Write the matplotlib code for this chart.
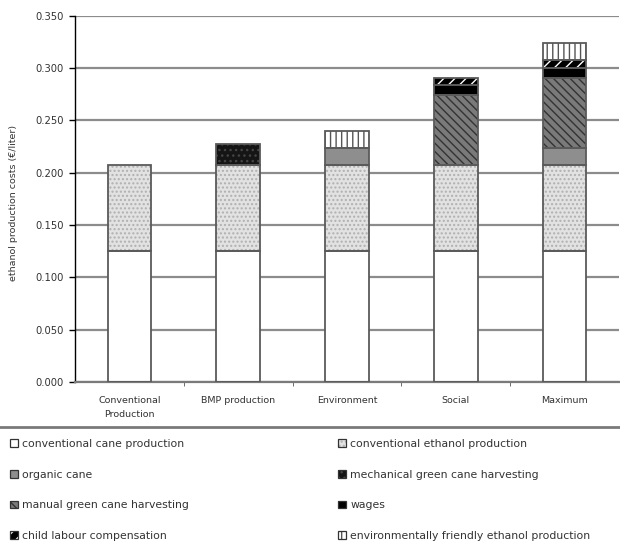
import matplotlib
matplotlib.use("Agg")
import matplotlib.pyplot as plt
from matplotlib.patches import Patch
from matplotlib.lines import Line2D
from matplotlib.legend_handler import HandlerTuple
import numpy as np

# Scenarios on the x axis
scenarios = ["Conventional\nProduction", "BMP production", "Environment", "Social", "Maximum"]

# Cost components (EUR per liter), stacked bottom to top
components = [
    "conventional cane production",
    "conventional ethanol production",
    "organic cane",
    "mechanical green cane harvesting",
    "manual green cane harvesting",
    "wages",
    "child labour compensation",
    "environmentally friendly ethanol production",
]

conventional_cane = [0.125, 0.125, 0.125, 0.125, 0.125]
conventional_ethanol = [0.082, 0.082, 0.082, 0.082, 0.082]
organic_cane = [0.0, 0.0, 0.017, 0.0, 0.017]
mechanical_harvest = [0.0, 0.020, 0.0, 0.0, 0.0]
manual_harvest = [0.0, 0.0, 0.0, 0.067, 0.066]
wages = [0.0, 0.0, 0.0, 0.010, 0.010]
child_labour = [0.0, 0.0, 0.0, 0.006, 0.008]
env_ethanol = [0.0, 0.0, 0.016, 0.0, 0.016]

series = [conventional_cane, conventional_ethanol, organic_cane, mechanical_harvest,
          manual_harvest, wages, child_labour, env_ethanol]

# (face colour, hatch pattern, hatch colour)
styles = [
    ("white", "", "white"),
    ("#e2e2e2", "....", "#b0b0b0"),
    ("#8e8e8e", "", "#8e8e8e"),
    ("#151515", "...", "#454545"),
    ("#7a7a7a", "\\\\\\\\", "#333333"),
    ("black", "", "black"),
    ("black", "///", "white"),
    ("white", "|||", "#555555"),
]

plt.rcParams["hatch.linewidth"] = 1.0
plt.rcParams["font.family"] = ["DejaVu Sans"]

fig = plt.figure(figsize=(6.2, 5.49), dpi=100)
ax = fig.add_axes([75 / 620, 1 - 382 / 549, 544 / 620, (382 - 15.7) / 549])

x = np.arange(len(scenarios))
width = 0.4
edge = "#5a5a5a"
bottom = np.zeros(len(scenarios))
for vals, (face, hatch, hcol) in zip(series, styles):
    vals = np.array(vals)
    mask = vals > 0
    ax.bar(x[mask], vals[mask], width, bottom=bottom[mask], color=face,
           hatch=hatch, edgecolor=hcol, linewidth=0, zorder=2)
    ax.bar(x[mask], vals[mask], width, bottom=bottom[mask], fill=False,
           edgecolor=edge, linewidth=1.3, zorder=3)
    bottom = bottom + vals

ax.set_xlim(-0.5, len(scenarios) - 0.5)
ax.set_ylim(0, 0.35)
ax.set_yticks(np.arange(0, 0.351, 0.05))
ax.set_yticklabels([f"{v:.3f}" for v in np.arange(0, 0.351, 0.05)], fontsize=7.2, color="#333333")
ax.yaxis.grid(True, color="#8c8c8c", linewidth=1.6, zorder=0)
ax.set_axisbelow(True)

ax.set_xticks(x)
ax.set_xticklabels(scenarios, fontsize=6.8, color="#333333", linespacing=1.7)
ax.tick_params(axis="x", which="major", length=0, pad=10)
ax.set_xticks(np.arange(0.5, len(scenarios) - 0.5, 1.0), minor=True)
ax.tick_params(axis="x", which="minor", length=3, color="#555555", direction="out")
ax.tick_params(axis="y", length=4, width=1, color="black", pad=4)

for side in ("top", "right"):
    ax.spines[side].set_visible(False)
ax.spines["left"].set_color("black")
ax.spines["left"].set_linewidth(1.0)
ax.spines["bottom"].set_color("#7a7a7a")
ax.spines["bottom"].set_linewidth(1.6)

ax.set_ylabel("ethanol production costs (\u20ac/liter)", fontsize=6.8, color="#333333")
ax.yaxis.set_label_coords(-0.105, 0.49)

# Separator between chart and legend
fig.add_artist(Line2D([0, 1], [1 - 427 / 549] * 2, transform=fig.transFigure,
                      color="#7a7a7a", linewidth=2.0))

handles = []
for face, hatch, hcol in styles:
    fillp = Patch(facecolor=face, hatch=hatch, edgecolor=hcol, linewidth=0)
    outl = Patch(fill=False, edgecolor="#333333", linewidth=0.9)
    handles.append((fillp, outl))

legend_kw = dict(frameon=False, fontsize=7.8, handlelength=0.7, handleheight=0.7,
                 handletextpad=0.45, labelspacing=1.9, borderpad=0, borderaxespad=0,
                 handler_map={tuple: HandlerTuple(ndivide=1, pad=0)},
                 labelcolor="#333333")
left_idx = [0, 2, 4, 6]
right_idx = [1, 3, 5, 7]
fig.legend([handles[i] for i in left_idx], [components[i] for i in left_idx],
           loc="upper left", bbox_to_anchor=(10 / 620, 1 - 439 / 549), **legend_kw)
fig.legend([handles[i] for i in right_idx], [components[i] for i in right_idx],
           loc="upper left", bbox_to_anchor=(338 / 620, 1 - 439 / 549), **legend_kw)

fig.savefig("out.png", dpi=100)
